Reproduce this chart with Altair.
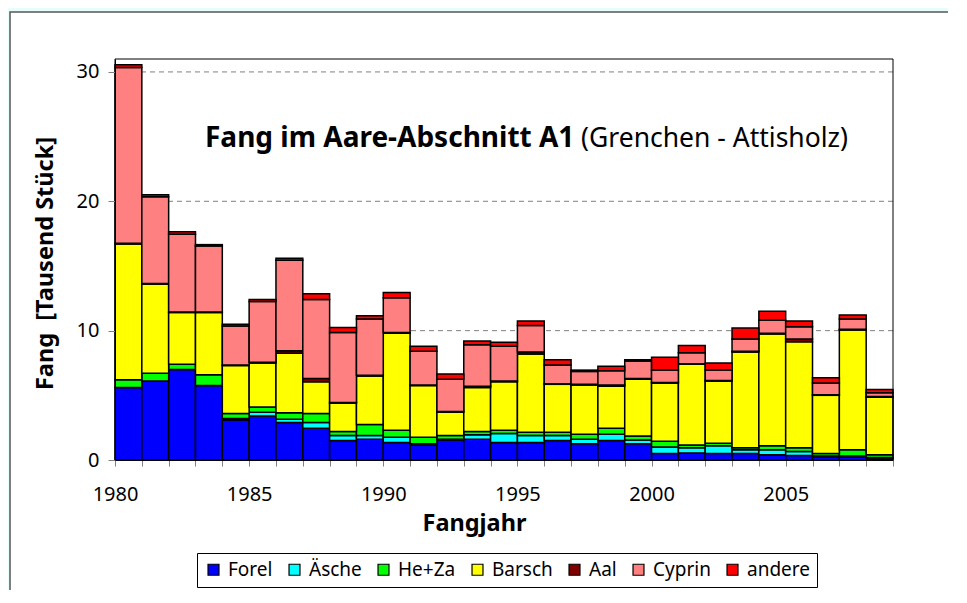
import altair as alt
import pandas as pd

years = list(range(1980, 2009))
species = ["Forel", "Äsche", "He+Za", "Barsch", "Aal", "Cyprin", "andere"]
colors = ["#0000FF", "#00FFFF", "#00FF00", "#FFFF00", "#800000", "#FF8080", "#FF0000"]

forel = [5.6, 6.1, 7.0, 5.75, 3.1, 3.4, 2.9, 2.45, 1.5, 1.6, 1.35, 1.15, 1.55, 1.6, 1.35,
         1.35, 1.5, 1.25, 1.5, 1.25, 0.5, 0.55, 0.5, 0.5, 0.4, 0.35, 0.25, 0.25, 0.15]
aesche = [0, 0, 0, 0, 0.1, 0.3, 0.25, 0.45, 0.4, 0.3, 0.4, 0.1, 0.05, 0.35, 0.7,
          0.55, 0.4, 0.35, 0.5, 0.3, 0.5, 0.4, 0.6, 0.3, 0.4, 0.3, 0.05, 0.05, 0.05]
heza = [0.6, 0.6, 0.4, 0.85, 0.4, 0.4, 0.5, 0.7, 0.3, 0.85, 0.55, 0.5, 0.3, 0.25, 0.25,
        0.25, 0.25, 0.4, 0.45, 0.3, 0.45, 0.2, 0.2, 0.15, 0.3, 0.3, 0.2, 0.5, 0.2]
barsch = [10.5, 6.9, 4.0, 4.8, 3.7, 3.4, 4.6, 2.45, 2.2, 3.75, 7.5, 4.0, 1.8, 3.4, 3.75,
          6.05, 3.7, 3.8, 3.25, 4.4, 4.5, 6.25, 4.8, 7.4, 8.65, 8.2, 4.5, 9.25, 4.45]
aal = [0.05, 0.05, 0.05, 0.05, 0.05, 0.05, 0.2, 0.25, 0.05, 0.05, 0.05, 0.05, 0.05, 0.1, 0.05,
       0.15, 0.05, 0.05, 0.1, 0.05, 0.05, 0.05, 0.05, 0.05, 0.05, 0.2, 0.05, 0.05, 0.05]
cyprin = [13.6, 6.7, 6.0, 5.1, 3.0, 4.7, 7.0, 6.1, 5.4, 4.35, 2.7, 2.6, 2.5, 3.2, 2.7,
          2.05, 1.45, 1.0, 1.1, 1.35, 0.95, 0.85, 0.8, 0.95, 1.0, 0.95, 0.9, 0.8, 0.3]
andere = [0.2, 0.15, 0.2, 0.1, 0.15, 0.15, 0.15, 0.45, 0.4, 0.25, 0.4, 0.4, 0.4, 0.3, 0.3,
          0.35, 0.4, 0.1, 0.35, 0.1, 1.0, 0.55, 0.55, 0.85, 0.7, 0.45, 0.4, 0.3, 0.25]

series = [forel, aesche, heza, barsch, aal, cyprin, andere]
grid_values = [10, 20, 30]
y_ticks = [0, 10, 20, 30]
x_ticks = list(range(1980, 2010))

title_bold = "Fang im Aare-Abschnitt A1"
title_rest = "(Grenchen - Attisholz)"
y_title = "Fang\u00a0 [Tausend Stück]"
x_title = "Fangjahr"

rows = []
for i, (name, vals) in enumerate(zip(species, series)):
    for yr, v in zip(years, vals):
        rows.append({"year": yr, "year_end": yr + 1, "species": name, "order": i, "value": v})
df = pd.DataFrame(rows)

FONT = "Noto Sans"
W, H = 778, 401

y_scale = alt.Scale(domain=[0, 31], nice=False, zero=True)
y_axis = alt.Axis(values=y_ticks, grid=False, tickSize=7, tickColor="#808080",
                  domainColor="black", labelFontSize=20, labelFont=FONT, labelColor="black",
                  labelPadding=9, title=y_title, titleFont=FONT, titleFontSize=23.5,
                  titleFontWeight="bold", titleColor="black", titleX=-63, titleY=204,
                  titleAngle=270, titleAlign="center", titleBaseline="alphabetic", zindex=1)

frame = alt.Chart(pd.DataFrame({"a": [0]})).mark_rect(
    fill="white", stroke="#555555", strokeWidth=1.5
).encode(x=alt.value(-105), y=alt.value(-47), x2=alt.value(1000), y2=alt.value(700))

grid = alt.Chart(pd.DataFrame({"v0": grid_values})).mark_rule(
    color="#808080", strokeDash=[5, 4], strokeWidth=1
).encode(y=alt.Y("v0:Q", scale=y_scale, axis=y_axis))

bars = alt.Chart(df).transform_stack(
    stack="value", as_=["v0", "v1"], groupby=["year"],
    sort=[alt.SortField("order", order="ascending")]
).mark_bar(stroke="black", strokeWidth=1.5).encode(
    x=alt.X("year:Q", scale=alt.Scale(domain=[1980, 2009], nice=False, zero=False),
            axis=alt.Axis(values=x_ticks, labelExpr="datum.value % 5 == 0 ? datum.value : ''",
                          labelOverlap=False, labelFlush=False, grid=False, tickSize=6,
                          tickColor="#808080", domainColor="black", labelFontSize=20,
                          labelFont=FONT, labelColor="black", labelPadding=18,
                          title=x_title, titleFont=FONT, titleFontSize=23.5, titleFontWeight="bold",
                          titleColor="black", titleX=359, titleY=70, titleAlign="center",
                          titleBaseline="alphabetic", zindex=1)),
    x2="year_end:Q",
    y=alt.Y("v0:Q", scale=y_scale, axis=y_axis),
    y2="v1:Q",
    color=alt.Color("species:N", scale=alt.Scale(domain=species, range=colors), sort=species,
                    legend=alt.Legend(title=None, orient="none", legendX=82, legendY=494,
                                      direction="horizontal", symbolType="square", symbolSize=120,
                                      symbolStrokeColor="black", symbolStrokeWidth=1.2,
                                      symbolOpacity=1, labelFontSize=19, labelFont=FONT,
                                      labelColor="black", labelOffset=5, columnPadding=12,
                                      strokeColor="black", fillColor="white", padding=7)),
    order=alt.Order("order:Q"),
)

t1 = alt.Chart(pd.DataFrame({"t": [title_bold]})).mark_text(
    align="left", baseline="alphabetic", font=FONT, fontSize=28, fontWeight="bold", color="black"
).encode(text="t:N", x=alt.value(90), y=alt.value(88))

t2 = alt.Chart(pd.DataFrame({"t": [title_rest]})).mark_text(
    align="right", baseline="alphabetic", font=FONT, fontSize=26.5, color="black"
).encode(text="t:N", x=alt.value(733), y=alt.value(88))

border = alt.Chart(pd.DataFrame({"a": [0]})).mark_rect(
    fill="transparent", stroke="black", strokeWidth=1
).encode(x=alt.value(0), y=alt.value(0), x2=alt.value(W), y2=alt.value(H))

chart = alt.layer(frame, grid, bars, t1, t2, border).properties(
    width=W, height=H,
    autosize=alt.AutoSizeParams(type="none"),
    padding={"left": 107, "top": 51, "right": 55, "bottom": 130},
    background="#E8FCFC",
).configure_view(stroke=None)

chart.save("out.html", embed_options={"renderer": "svg", "actions": False})
